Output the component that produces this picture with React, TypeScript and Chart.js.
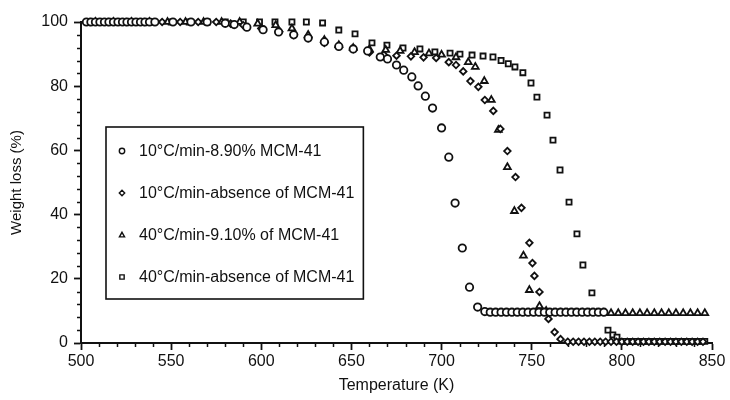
import React, { useEffect, useRef } from "react";
import { Chart, registerables } from "chart.js";

Chart.register(...registerables);

// ---- Data ----
const seriesLabels = [
  "10°C/min-8.90% MCM-41",
  "10°C/min-absence of MCM-41",
  "40°C/min-9.10% of MCM-41",
  "40°C/min-absence of MCM-41",
];

const circleX = [503, 505.5, 508, 510.5, 513, 515.5, 518, 520.5, 523, 525.5, 528, 530.5, 533, 535.5, 538, 541, 551, 561, 570, 580, 585, 592, 601, 609.6, 618, 626, 635, 643, 651, 659, 666, 670, 675, 679, 683.5, 687, 691, 695, 700, 704, 707.5, 711.5, 715.5, 720, 724, 727, 730, 733, 736, 739, 742, 745, 748, 751, 754, 757, 760, 763, 766, 769, 772, 775, 778, 781, 784, 787, 790];
const circleY = [100, 100, 100, 100, 100, 100, 100, 100, 100, 100, 100, 100, 100, 100, 100, 100, 100, 100, 100, 99.6, 99.2, 98.4, 97.6, 96.9, 96, 95, 93.8, 92.4, 91.6, 91, 89.1, 88.5, 86.6, 85, 82.9, 80.1, 76.9, 73.2, 67, 57.9, 43.6, 29.6, 17.4, 11.2, 9.8, 9.6, 9.6, 9.6, 9.6, 9.6, 9.6, 9.6, 9.6, 9.6, 9.6, 9.6, 9.6, 9.6, 9.6, 9.6, 9.6, 9.6, 9.6, 9.6, 9.6, 9.6, 9.6];

const diamondX = [505, 515, 525, 535, 545, 555, 565, 575, 583, 590, 600, 610, 618, 626, 635, 643, 651, 660, 668, 675, 683, 690, 697, 704, 708, 712, 716, 720.4, 724, 728.7, 732.6, 736.5, 741, 744.3, 748.7, 750.4, 751.5, 754.3, 759.3, 762.7, 766, 770, 773, 776, 779, 782, 785, 788, 791, 794, 797, 800, 803, 806, 809, 812, 815, 818, 821, 824, 827, 830, 833, 836, 839, 842, 845];
const diamondY = [100, 100, 100, 100, 100, 100, 100, 100, 99.5, 99, 98, 97, 96, 95, 93.5, 92.5, 91.5, 90.5, 89.8, 89.5, 89.3, 89, 88.8, 87.5, 86.6, 84.6, 81.6, 79.8, 75.7, 72.3, 66.7, 59.8, 51.7, 42.1, 31.2, 24.9, 20.9, 15.9, 7.5, 3.4, 1.2, 0.4, 0.4, 0.4, 0.4, 0.4, 0.4, 0.4, 0.4, 0.4, 0.4, 0.4, 0.4, 0.4, 0.4, 0.4, 0.4, 0.4, 0.4, 0.4, 0.4, 0.4, 0.4, 0.4, 0.4, 0.4, 0.4];

const triangleX = [508, 518, 528, 538, 548, 558, 568, 578, 588, 598, 608, 617, 626, 635, 643, 651, 660, 669, 677, 685, 693, 700, 708, 714.8, 718.7, 723.7, 727.6, 731.5, 736.5, 740.4, 745.4, 748.7, 754.3, 758, 762, 766, 770, 774, 778, 782, 786, 790, 794, 798, 802, 806, 810, 814, 818, 822, 826, 830, 834, 838, 842, 846];
const triangleY = [100, 100, 100, 100, 100, 100, 100, 100, 100, 99.5, 99, 98, 96, 94.4, 92.8, 91.9, 91.5, 91.3, 91, 90.6, 90.2, 89.8, 89, 87.5, 86, 81.6, 75.7, 66.4, 54.8, 41.1, 27.2, 16.5, 11.5, 10, 9.3, 9.3, 9.3, 9.3, 9.3, 9.3, 9.3, 9.3, 9.3, 9.3, 9.3, 9.3, 9.3, 9.3, 9.3, 9.3, 9.3, 9.3, 9.3, 9.3, 9.3, 9.3];

const squareX = [510, 520, 530, 540, 550, 560, 570, 580, 590, 599, 607.6, 617, 625, 634, 643, 652, 661.4, 669.7, 678.6, 688, 696.3, 704.7, 710.2, 716.9, 723, 728.5, 733, 737, 740.7, 745.1, 749.6, 752.9, 758.5, 761.8, 765.7, 770.7, 775.1, 778.4, 783.4, 792.3, 795, 797.3, 800, 802, 804, 806, 808, 810, 812, 814, 816, 818, 820, 822, 824, 826, 828, 830, 832, 834, 836, 838, 840, 842, 844, 846];
const squareY = [100, 100, 100, 100, 100, 100, 100, 100, 100, 100, 100, 100, 100, 99.7, 97.5, 96.3, 93.5, 92.8, 91.9, 91.6, 90.7, 90.3, 90, 89.7, 89.4, 89.1, 88, 87, 86, 84.2, 81, 76.6, 71, 63.2, 53.9, 43.9, 34, 24.3, 15.6, 4, 2.5, 1.8, 0.5, 0.5, 0.5, 0.5, 0.5, 0.5, 0.5, 0.5, 0.5, 0.5, 0.5, 0.5, 0.5, 0.5, 0.5, 0.5, 0.5, 0.5, 0.5, 0.5, 0.5, 0.5, 0.5, 0.5];

const xMajorTicks = [500, 550, 600, 650, 700, 750, 800, 850];
const yMajorTicks = [0, 20, 40, 60, 80, 100];
const xMinorTicks = [510, 520, 530, 540, 560, 570, 580, 590, 610, 620, 630, 640, 660, 670, 680, 690, 710, 720, 730, 740, 760, 770, 780, 790, 810, 820, 830, 840];
const yMinorTicks = [4, 8, 12, 16, 24, 28, 32, 36, 44, 48, 52, 56, 64, 68, 72, 76, 84, 88, 92, 96];

const pointStyles = ["circle", "rectRot", "triangle", "rect"] as const;
const pointRadii = [3.7, 3.3, 3.9, 3.6];

const FONT = "'Liberation Sans', Arial, sans-serif";
const INK = "#111";

function zip(xs: number[], ys: number[]) {
  return xs.map((x, i) => ({ x, y: ys[i] }));
}

function drawSymbol(ctx: CanvasRenderingContext2D, style: string, cx: number, cy: number, r: number) {
  ctx.beginPath();
  if (style === "circle") {
    ctx.arc(cx, cy, r, 0, Math.PI * 2);
  } else if (style === "rectRot") {
    ctx.moveTo(cx, cy - r);
    ctx.lineTo(cx + r, cy);
    ctx.lineTo(cx, cy + r);
    ctx.lineTo(cx - r, cy);
    ctx.closePath();
  } else if (style === "triangle") {
    ctx.moveTo(cx, cy - r);
    ctx.lineTo(cx + r * 0.95, cy + r * 0.7);
    ctx.lineTo(cx - r * 0.95, cy + r * 0.7);
    ctx.closePath();
  } else {
    ctx.rect(cx - r * 0.8, cy - r * 0.8, r * 1.6, r * 1.6);
  }
  ctx.fillStyle = "#fff";
  ctx.fill();
  ctx.stroke();
}

const minorTickPlugin = {
  id: "minorTicks",
  afterDraw(chart: any) {
    const { ctx, chartArea, scales } = chart;
    const xs = scales.x;
    const ys = scales.y;
    ctx.save();
    ctx.strokeStyle = INK;
    ctx.lineWidth = 1.5;
    for (const v of xMinorTicks) {
      const px = Math.round(xs.getPixelForValue(v)) + 0.5;
      ctx.beginPath();
      ctx.moveTo(px, chartArea.bottom);
      ctx.lineTo(px, chartArea.bottom + 4);
      ctx.stroke();
    }
    for (const v of yMinorTicks) {
      const py = Math.round(ys.getPixelForValue(v)) + 0.5;
      ctx.beginPath();
      ctx.moveTo(chartArea.left, py);
      ctx.lineTo(chartArea.left - 4, py);
      ctx.stroke();
    }
    ctx.restore();
  },
};

const boxLegendPlugin = {
  id: "boxLegend",
  afterDraw(chart: any) {
    const { ctx, chartArea } = chart;
    const left = chartArea.left + 25;
    const top = chartArea.top + 105;
    const rowGap = 42;
    const firstRow = top + 24;
    ctx.save();
    ctx.font = `16px ${FONT}`;
    let maxW = 0;
    for (const l of seriesLabels) maxW = Math.max(maxW, ctx.measureText(l).width);
    const width = 33 + maxW + 9;
    const height = 24 + rowGap * 3 + 22;
    ctx.fillStyle = "#fff";
    ctx.fillRect(left, top, width, height);
    ctx.strokeStyle = INK;
    ctx.lineWidth = 1.6;
    ctx.strokeRect(left, top, width, height);
    ctx.lineWidth = 1.4;
    seriesLabels.forEach((label, i) => {
      const cy = firstRow + i * rowGap;
      ctx.strokeStyle = INK;
      drawSymbol(ctx, pointStyles[i], left + 16, cy, 2.7);
      ctx.fillStyle = INK;
      ctx.textBaseline = "middle";
      ctx.textAlign = "left";
      ctx.fillText(label, left + 33, cy + 1);
    });
    ctx.restore();
  },
};

export default function App() {
  const ref = useRef<HTMLCanvasElement | null>(null);

  useEffect(() => {
    document.body.style.margin = "0";
    if (!ref.current) return;
    const xsList = [circleX, diamondX, triangleX, squareX];
    const ysList = [circleY, diamondY, triangleY, squareY];
    const chart = new Chart(ref.current, {
      type: "scatter",
      data: {
        datasets: seriesLabels.map((label, i) => ({
          label,
          data: zip(xsList[i], ysList[i]),
          pointStyle: pointStyles[i],
          pointRadius: pointRadii[i],
          pointBorderWidth: 1.8,
          pointBorderColor: INK,
          pointBackgroundColor: "#fff",
          showLine: false,
          clip: false as any,
        })),
      },
      options: {
        responsive: false,
        animation: false,
        devicePixelRatio: 1,
        layout: { padding: { left: 0, right: 18, top: 22, bottom: 0 } },
        plugins: {
          legend: { display: false },
          tooltip: { enabled: false },
          title: { display: false },
        },
        scales: {
          x: {
            type: "linear",
            min: 500,
            max: 850,
            afterBuildTicks: (s: any) => {
              s.ticks = xMajorTicks.map((v) => ({ value: v }));
            },
            afterFit: (s: any) => {
              s.height = 57;
            },
            grid: {
              display: true,
              drawOnChartArea: false,
              drawTicks: true,
              tickLength: 7,
              tickColor: INK,
              tickWidth: 1.8,
            },
            border: { display: true, color: INK, width: 2 },
            ticks: {
              color: INK,
              font: { family: FONT, size: 16 },
              padding: 2,
              maxRotation: 0,
            },
            title: {
              display: true,
              text: "Temperature (K)",
              color: INK,
              font: { family: FONT, size: 16 },
              padding: { top: 0, bottom: 5 },
            },
          },
          y: {
            type: "linear",
            min: 0,
            max: 100,
            afterBuildTicks: (s: any) => {
              s.ticks = yMajorTicks.map((v) => ({ value: v }));
            },
            afterFit: (s: any) => {
              s.width = 81;
            },
            grid: {
              display: true,
              drawOnChartArea: false,
              drawTicks: true,
              tickLength: 7,
              tickColor: INK,
              tickWidth: 1.8,
            },
            border: { display: true, color: INK, width: 2 },
            ticks: {
              color: INK,
              font: { family: FONT, size: 16 },
              padding: 6,
            },
            title: {
              display: true,
              text: "Weight loss (%)",
              color: INK,
              font: { family: FONT, size: 15 },
              padding: { top: 8, bottom: 0 },
            },
          },
        },
      },
      plugins: [minorTickPlugin, boxLegendPlugin],
    });
    return () => chart.destroy();
  }, []);

  return (
    <div style={{ position: "absolute", left: 0, top: 0, width: 730, height: 400, background: "#fff" }}>
      <canvas ref={ref} width={730} height={400} />
    </div>
  );
}
